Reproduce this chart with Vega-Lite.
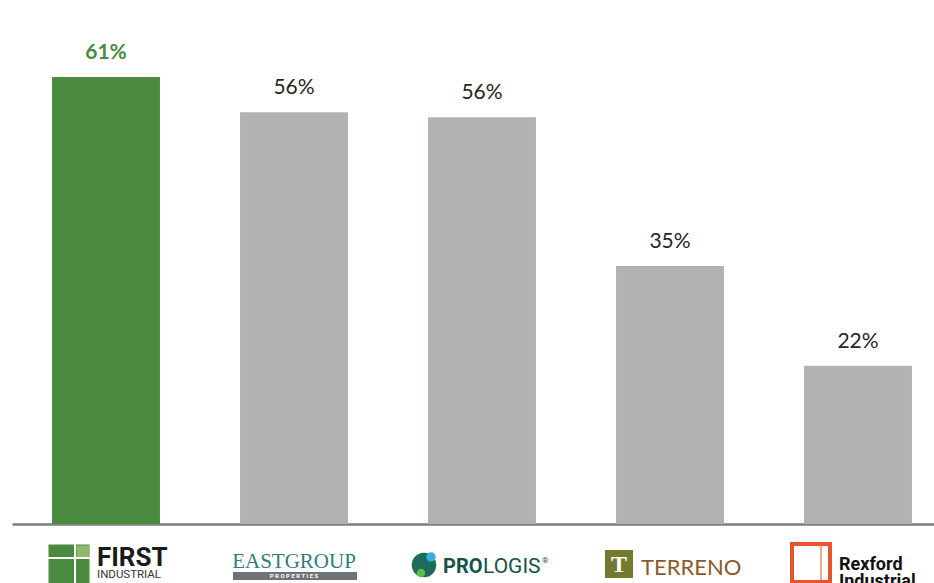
{
  "$schema": "https://vega.github.io/schema/vega-lite/v6.json",
  "width": 940,
  "height": 524,
  "autosize": {"type": "none"},
  "padding": {"left": 12, "top": 0, "right": 0, "bottom": 59},
  "background": "white",
  "config": {"view": {"stroke": null}},
  "data": {
    "values": [
      {"company": "First Industrial", "value": 61.0, "label": "61%", "highlight": true},
      {"company": "EastGroup Properties", "value": 56.2, "label": "56%", "highlight": false},
      {"company": "Prologis", "value": 55.5, "label": "56%", "highlight": false},
      {"company": "Terreno", "value": 35.2, "label": "35%", "highlight": false},
      {"company": "Rexford Industrial", "value": 21.6, "label": "22%", "highlight": false}
    ]
  },
  "encoding": {
    "x": {
      "field": "company",
      "type": "nominal",
      "sort": null,
      "scale": {"paddingInner": 0.426, "paddingOuter": 0.213},
      "axis": {
        "title": null,
        "ticks": false,
        "labels": false,
        "domainColor": "#7f7f7f",
        "domainWidth": 2.5
      }
    },
    "y": {
      "field": "value",
      "type": "quantitative",
      "scale": {"domain": [0, 71.5], "nice": false},
      "axis": null
    }
  },
  "layer": [
    {
      "mark": {"type": "bar"},
      "encoding": {
        "color": {
          "condition": {"test": "datum.highlight", "value": "#4a8b3f"},
          "value": "#b1b2b4"
        }
      }
    },
    {
      "transform": [{"filter": "!datum.highlight"}],
      "mark": {"type": "text", "dy": -24, "baseline": "middle", "fontSize": 21, "font": "Lato", "color": "#262626"},
      "encoding": {"text": {"field": "label"}}
    },
    {
      "transform": [{"filter": "datum.highlight"}],
      "mark": {"type": "text", "dy": -24, "baseline": "middle", "fontSize": 21, "font": "Lato", "fontWeight": "bold", "color": "#4a8b3f"},
      "encoding": {"text": {"field": "label"}}
    },

    {
      "transform": [{"filter": "datum.company == 'First Industrial'"}],
      "mark": {"type": "point", "shape": "square", "filled": true, "size": 1681, "color": "#4a8b3f", "opacity": 1, "xOffset": -37, "yOffset": 41},
      "encoding": {"y": {"datum": 0}}
    },
    {
      "transform": [{"filter": "datum.company == 'First Industrial'"}],
      "mark": {"type": "point", "shape": "square", "filled": true, "size": 169, "color": "#8fb86c", "opacity": 1, "xOffset": -23, "yOffset": 28},
      "encoding": {"y": {"datum": 0}}
    },
    {
      "transform": [{"filter": "datum.company == 'First Industrial'"}],
      "mark": {"type": "rule", "color": "#ffffff", "strokeWidth": 2, "xOffset": -31, "yOffset": 20, "y2Offset": 62},
      "encoding": {"y": {"datum": 0}, "y2": {"datum": 0}}
    },
    {
      "transform": [{"filter": "datum.company == 'First Industrial'"}],
      "mark": {"type": "rule", "color": "#ffffff", "strokeWidth": 2, "xOffset": -58, "x2Offset": -16, "yOffset": 34},
      "encoding": {"y": {"datum": 0}, "x2": {"field": "company"}}
    },
    {
      "transform": [{"filter": "datum.company == 'First Industrial'"}],
      "mark": {"type": "text", "text": "FIRST", "align": "left", "baseline": "alphabetic", "font": "Roboto", "fontWeight": "bold", "fontSize": 26, "color": "#1a1a1a", "dx": -9, "dy": 42},
      "encoding": {"y": {"datum": 0}}
    },
    {
      "transform": [{"filter": "datum.company == 'First Industrial'"}],
      "mark": {"type": "text", "text": "INDUSTRIAL", "align": "left", "baseline": "alphabetic", "font": "Roboto", "fontSize": 11.5, "color": "#333333", "dx": -9, "dy": 54},
      "encoding": {"y": {"datum": 0}}
    },

    {
      "transform": [{"filter": "datum.company == 'EastGroup Properties'"}],
      "mark": {"type": "text", "text": "EASTGROUP", "align": "center", "baseline": "alphabetic", "font": "Liberation Serif", "fontSize": 21, "color": "#2f7d7b", "dy": 44},
      "encoding": {"y": {"datum": 0}}
    },
    {
      "transform": [{"filter": "datum.company == 'EastGroup Properties'"}],
      "mark": {"type": "rule", "color": "#6d7378", "strokeWidth": 8, "xOffset": -61, "x2Offset": 63, "yOffset": 52},
      "encoding": {"y": {"datum": 0}, "x2": {"field": "company"}}
    },
    {
      "transform": [{"filter": "datum.company == 'EastGroup Properties'"}],
      "mark": {"type": "text", "text": "P    R    O    P    E    R    T    I    E    S", "align": "center", "baseline": "middle", "font": "Roboto", "fontWeight": "bold", "fontSize": 6, "color": "#ffffff", "dy": 52},
      "encoding": {"y": {"datum": 0}}
    },

    {
      "transform": [{"filter": "datum.company == 'Prologis'"}],
      "mark": {"type": "point", "shape": "circle", "filled": true, "size": 600, "color": "#1d6b5a", "opacity": 1, "xOffset": -58, "yOffset": 41},
      "encoding": {"y": {"datum": 0}}
    },
    {
      "transform": [{"filter": "datum.company == 'Prologis'"}],
      "mark": {"type": "point", "shape": "circle", "filled": true, "size": 90, "color": "#3aaee0", "opacity": 1, "xOffset": -51, "yOffset": 33},
      "encoding": {"y": {"datum": 0}}
    },
    {
      "transform": [{"filter": "datum.company == 'Prologis'"}],
      "mark": {"type": "point", "shape": "circle", "filled": true, "size": 70, "color": "#5cbf4a", "opacity": 1, "xOffset": -61, "yOffset": 49},
      "encoding": {"y": {"datum": 0}}
    },
    {
      "transform": [{"filter": "datum.company == 'Prologis'"}],
      "mark": {"type": "text", "text": "PRO", "align": "left", "baseline": "alphabetic", "font": "Roboto", "fontWeight": "bold", "fontSize": 20, "color": "#14524a", "dx": -39, "dy": 49},
      "encoding": {"y": {"datum": 0}}
    },
    {
      "transform": [{"filter": "datum.company == 'Prologis'"}],
      "mark": {"type": "text", "text": "LOGIS", "align": "left", "baseline": "alphabetic", "font": "Roboto", "fontSize": 21, "color": "#14524a", "dx": 1, "dy": 49},
      "encoding": {"y": {"datum": 0}}
    },
    {
      "transform": [{"filter": "datum.company == 'Prologis'"}],
      "mark": {"type": "text", "text": "®", "align": "left", "baseline": "alphabetic", "font": "Roboto", "fontSize": 8, "color": "#14524a", "dx": 60, "dy": 39},
      "encoding": {"y": {"datum": 0}}
    },

    {
      "transform": [{"filter": "datum.company == 'Terreno'"}],
      "mark": {"type": "point", "shape": "square", "filled": true, "size": 784, "color": "#737a30", "opacity": 1, "xOffset": -51, "yOffset": 40},
      "encoding": {"y": {"datum": 0}}
    },
    {
      "transform": [{"filter": "datum.company == 'Terreno'"}],
      "mark": {"type": "text", "text": "T", "align": "center", "baseline": "middle", "font": "Liberation Serif", "fontWeight": "bold", "fontSize": 24, "color": "#ffffff", "dx": -51, "dy": 41},
      "encoding": {"y": {"datum": 0}}
    },
    {
      "transform": [{"filter": "datum.company == 'Terreno'"}],
      "mark": {"type": "text", "text": "TERRENO", "align": "left", "baseline": "alphabetic", "font": "Lato", "fontSize": 22, "color": "#8b5a2b", "dx": -29, "dy": 51},
      "encoding": {"y": {"datum": 0}}
    },

    {
      "transform": [{"filter": "datum.company == 'Rexford Industrial'"}],
      "mark": {"type": "point", "shape": "square", "filled": false, "size": 1444, "color": "#e8542c", "strokeWidth": 4, "opacity": 1, "xOffset": -47, "yOffset": 39},
      "encoding": {"y": {"datum": 0}}
    },
    {
      "transform": [{"filter": "datum.company == 'Rexford Industrial'"}],
      "mark": {"type": "rule", "color": "#f08a6a", "strokeWidth": 1.5, "xOffset": -37, "yOffset": 22, "y2Offset": 56},
      "encoding": {"y": {"datum": 0}, "y2": {"datum": 0}}
    },
    {
      "transform": [{"filter": "datum.company == 'Rexford Industrial'"}],
      "mark": {"type": "text", "text": "Rexford", "align": "left", "baseline": "alphabetic", "font": "Roboto", "fontWeight": "bold", "fontSize": 18, "color": "#111111", "dx": -19, "dy": 46},
      "encoding": {"y": {"datum": 0}}
    },
    {
      "transform": [{"filter": "datum.company == 'Rexford Industrial'"}],
      "mark": {"type": "text", "text": "Industrial", "align": "left", "baseline": "alphabetic", "font": "Roboto", "fontWeight": "bold", "fontSize": 18, "color": "#111111", "dx": -19, "dy": 63},
      "encoding": {"y": {"datum": 0}}
    }
  ]
}
